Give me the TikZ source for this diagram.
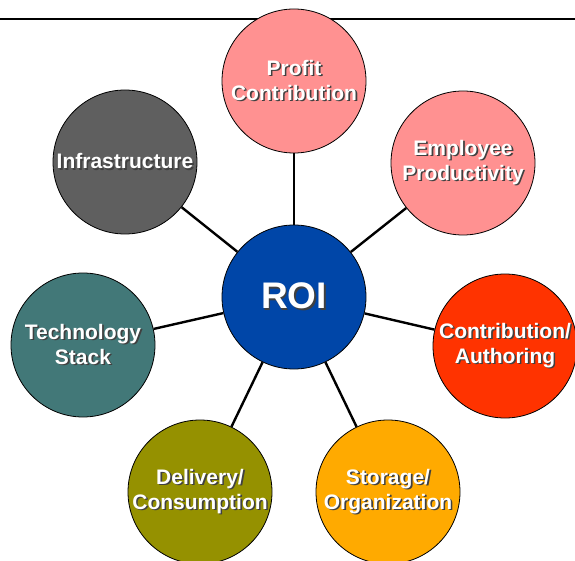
\documentclass[tikz,border=0pt]{standalone}
\usepackage{fontspec}
\setmainfont{Liberation Sans}
\usepackage{tikz}
\definecolor{pinkish}{HTML}{FF9191}
\definecolor{redish}{HTML}{FF3300}
\definecolor{orangeish}{HTML}{FFAA00}
\definecolor{oliveish}{HTML}{959100}
\definecolor{tealish}{HTML}{427878}
\definecolor{grayish}{HTML}{5F5F5F}
\definecolor{roiblue}{HTML}{0046A8}
\definecolor{shadowgray}{HTML}{404040}
\newcommand\shd[1]{\rlap{\hspace{1.6pt}\raisebox{-1.6pt}{\color{shadowgray}#1}}#1}

\begin{document}
\begin{tikzpicture}[x=1pt, y=-1pt,
  bubble/.style={circle, draw=black, line width=0.8pt, minimum size=144pt,
    inner sep=0pt, text=white, align=center,
    font=\fontsize{21}{25}\selectfont\bfseries},
  spoke/.style={line width=2.4pt}]

  \useasboundingbox (0,0) rectangle (575,561);

  %% rule across the top
  \coordinate (ruleL) at (0,19);
  \coordinate (ruleR) at (575,19);
  \draw[line width=2.2pt] (ruleL) -- (ruleR);

  \node[bubble, fill=roiblue, font=\fontsize{37}{40}\selectfont\bfseries]
    (roi) at (294,297) {\shd{ROI}};

  \node[bubble, fill=pinkish] (profit) at (294,81) {\shd{Profit}\\\shd{Contribution}};
  \node[bubble, fill=pinkish] (employee) at (463,163) {\shd{Employee}\\\shd{Productivity}};
  \node[bubble, fill=redish] (contrib) at (505,346) {\shd{Contribution/}\\\shd{Authoring}};
  \node[bubble, fill=orangeish] (storage) at (388,492) {\shd{Storage/}\\\shd{Organization}};
  \node[bubble, fill=oliveish] (delivery) at (200,492) {\shd{Delivery/}\\\shd{Consumption}};
  \node[bubble, fill=tealish] (techstack) at (83,345) {\shd{Technology}\\\shd{Stack}};
  \node[bubble, fill=grayish] (infra) at (125,162) {\shd{Infrastructure}};

  %% spokes from the hub
  \foreach \n in {profit,employee,contrib,storage,delivery,techstack,infra}
    \draw[spoke] (roi) -- (\n);

\end{tikzpicture}
\end{document}
